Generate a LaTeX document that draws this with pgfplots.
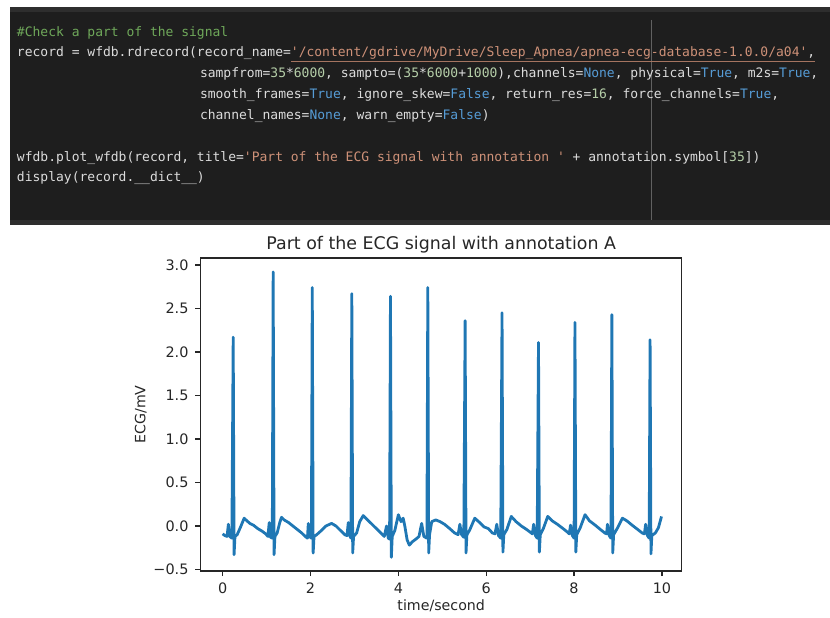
\documentclass[border=0pt]{standalone}
\usepackage{fontspec}
\setmainfont{DejaVu Sans}
\setmonofont{DejaVu Sans Mono}
\usepackage{pgfplots}
\pgfplotsset{compat=1.18}
\usepackage{pgfplotstable}
\definecolor{codebg}{HTML}{1E1E1E}
\definecolor{codetop}{HTML}{2E2E2E}
\definecolor{codetxt}{HTML}{DCDCDC}
\definecolor{cmt}{HTML}{6FA85A}
\definecolor{str}{HTML}{CE9178}
\definecolor{kw}{HTML}{569CD6}
\definecolor{num}{HTML}{B5CEA8}
\definecolor{mplblue}{HTML}{1F77B4}
\definecolor{axgray}{HTML}{262626}

\pgfplotstableread{
x y
0.00 -0.09
0.05 -0.11
0.10 -0.12
0.13 0.02
0.16 -0.12
0.21 -0.14
0.24 2.17
0.26 -0.33
0.28 -0.12
0.33 -0.10
0.40 -0.02
0.49 0.09
0.55 0.06
0.62 0.03
0.70 0.01
0.80 -0.03
0.90 -0.06
0.98 -0.09
1.03 -0.12
1.06 0.04
1.09 -0.13
1.13 -0.14
1.15 2.92
1.17 -0.33
1.19 -0.12
1.24 -0.08
1.30 0.04
1.34 0.10
1.40 0.07
1.50 0.04
1.60 0.00
1.70 -0.04
1.80 -0.08
1.88 -0.12
1.93 -0.14
1.95 0.03
1.98 -0.12
2.02 -0.14
2.04 2.74
2.06 -0.31
2.08 -0.12
2.14 -0.10
2.25 -0.05
2.35 0.00
2.48 0.03
2.58 0.00
2.68 -0.05
2.78 -0.10
2.83 -0.11
2.86 0.04
2.89 -0.11
2.92 -0.14
2.94 2.67
2.96 -0.31
2.98 -0.12
3.05 -0.08
3.12 0.05
3.20 0.12
3.28 0.08
3.40 0.02
3.50 -0.03
3.60 -0.08
3.68 -0.12
3.73 0.00
3.77 -0.14
3.80 -0.15
3.82 2.64
3.84 -0.36
3.86 -0.12
3.92 -0.05
4.00 0.13
4.06 0.05
4.11 0.09
4.15 -0.01
4.20 -0.16
4.25 -0.22
4.32 -0.18
4.40 -0.15
4.47 -0.12
4.53 0.03
4.58 -0.12
4.65 -0.14
4.67 2.74
4.69 -0.31
4.71 -0.10
4.76 0.05
4.85 0.07
4.95 0.05
5.05 0.02
5.17 -0.03
5.28 -0.08
5.36 -0.10
5.40 0.02
5.44 -0.10
5.49 -0.13
5.52 2.36
5.54 -0.31
5.56 -0.10
5.62 -0.05
5.74 0.09
5.85 0.04
5.95 -0.01
6.05 -0.03
6.14 -0.08
6.20 -0.09
6.24 0.02
6.28 -0.11
6.33 -0.14
6.36 2.45
6.38 -0.30
6.40 -0.10
6.47 -0.04
6.57 0.11
6.68 0.05
6.80 0.00
6.92 -0.04
7.00 -0.07
7.05 -0.09
7.08 0.02
7.12 -0.11
7.16 -0.14
7.19 2.11
7.21 -0.30
7.23 -0.10
7.30 -0.03
7.40 0.11
7.50 0.06
7.62 0.02
7.75 -0.03
7.85 -0.07
7.89 -0.09
7.92 0.01
7.96 -0.11
8.00 -0.14
8.02 2.34
8.04 -0.30
8.06 -0.10
8.14 -0.02
8.25 0.13
8.35 0.06
8.48 0.01
8.60 -0.04
8.70 -0.08
8.74 -0.09
8.76 0.02
8.80 -0.11
8.84 -0.14
8.86 2.43
8.88 -0.31
8.90 -0.10
8.98 -0.03
9.10 0.09
9.20 0.06
9.32 0.01
9.45 -0.04
9.55 -0.08
9.60 -0.09
9.63 0.02
9.67 -0.11
9.71 -0.14
9.73 2.14
9.75 -0.32
9.77 -0.11
9.85 -0.08
9.92 -0.02
9.99 0.11
}\ecgdata

\begin{document}
\begin{tikzpicture}
\useasboundingbox (0pt,0pt) rectangle (415pt,308.5pt);
% code cell
\fill[codebg] (5pt,196pt) rectangle (415pt,305pt);
\fill[codetop] (5pt,302.5pt) rectangle (415pt,305pt);
\fill[codetop] (5pt,196pt) rectangle (415pt,198.5pt);
\draw[color=white!30!codebg, line width=0.5pt] (325.5pt,298.5pt) -- (325.5pt,198.5pt);
\begin{scope}[every node/.style={anchor=base west, inner sep=0pt, outer sep=0pt, text=codetxt, font=\ttfamily\fontsize{6.5}{7}\selectfont}]
\node at (8.5pt,290.25pt) {\color{cmt}\#Check a part of the signal};
\node at (8.5pt,280pt) {record = wfdb.rdrecord(record\_name={\color{str}'/content/gdrive/MyDrive/Sleep\_Apnea/apnea-ecg-database-1.0.0/a04'},};
\node at (100pt,269.5pt) {sampfrom={\color{num}35}*{\color{num}6000}, sampto=({\color{num}35}*{\color{num}6000}+{\color{num}1000}),channels={\color{kw}None}, physical={\color{kw}True}, m2s={\color{kw}True},};
\node at (100pt,259pt) {smooth\_frames={\color{kw}True}, ignore\_skew={\color{kw}False}, return\_res={\color{num}16}, force\_channels={\color{kw}True},};
\node at (100pt,248.5pt) {channel\_names={\color{kw}None}, warn\_empty={\color{kw}False})};
\node at (8.5pt,227.75pt) {wfdb.plot\_wfdb(record, title={\color{str}'Part of the ECG signal with annotation '} + annotation.symbol[{\color{num}35}])};
\node at (8.5pt,217.75pt) {display(record.\_\_dict\_\_)};
\end{scope}
\draw[str!80!black, line width=0.5pt] (145.5pt,277.6pt) -- (407.5pt,277.6pt);
% chart
\begin{axis}[
  at={(100.35pt,23pt)}, anchor=south west,
  scale only axis, width=240.5pt, height=156.5pt,
  xmin=-0.5, xmax=10.45, ymin=-0.517, ymax=3.08,
  axis line style={axgray, line width=0.6pt},
  tick align=outside, major tick length=2.6pt,
  every tick/.style={axgray, line width=0.6pt},
  xtick={0,2,4,6,8,10}, xticklabels={0,2,4,6,8,10},
  ytick={-0.5,0,0.5,1,1.5,2,2.5,3},
  yticklabels={−0.5,0.0,0.5,1.0,1.5,2.0,2.5,3.0},
  ticklabel style={font=\fontsize{7.2}{8}\selectfont, text=axgray},
  xtick pos=bottom, ytick pos=left,
  title={Part of the ECG signal with annotation A},
  title style={font=\fontsize{8.7}{10}\selectfont, text=axgray, at={(axis description cs:0.5,1)}, anchor=center, yshift=0.5pt},
  xlabel={time/second},
  xlabel style={font=\fontsize{7.1}{8}\selectfont, text=axgray, at={(axis description cs:0.5,0)}, anchor=center, yshift=-17.5pt},
  ylabel={ECG/mV},
  ylabel style={font=\fontsize{7.1}{8}\selectfont, text=axgray, at={(axis description cs:-0.1247,0.5)}, anchor=center, rotate=0},
]
\addplot[mplblue, line width=1.4pt, line join=round, mark=none] table[x=x,y=y] {\ecgdata};
\end{axis}
\end{tikzpicture}
\end{document}
